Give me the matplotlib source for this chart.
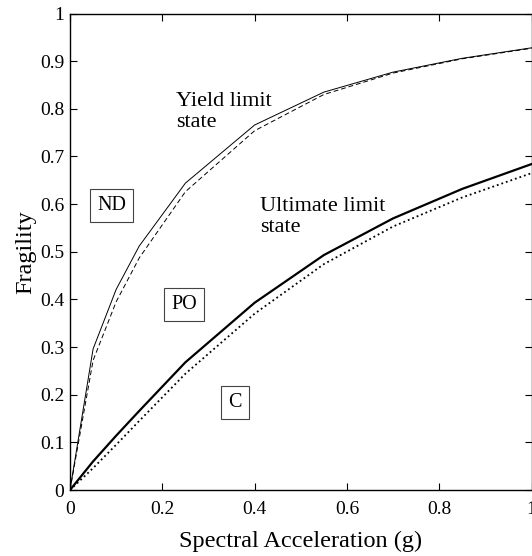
import numpy as np
import matplotlib
matplotlib.use("Agg")
import matplotlib.pyplot as plt

plt.rcParams['font.family'] = ['Liberation Serif', 'DejaVu Serif']
plt.rcParams['mathtext.fontset'] = 'stix'

# spectral acceleration (g)
sa = [0, 0.05, 0.10, 0.15, 0.25, 0.40, 0.55, 0.70, 0.85, 1.00]

# yield limit state curves
yield_solid = [0, 0.296, 0.421, 0.512, 0.644, 0.766, 0.835, 0.877, 0.906, 0.928]
yield_dash = [0, 0.272, 0.395, 0.487, 0.626, 0.754, 0.830, 0.875, 0.905, 0.927]

# ultimate limit state curves
ult_solid = [0, 0.060, 0.114, 0.166, 0.268, 0.393, 0.493, 0.570, 0.632, 0.684]
ult_dot = [0, 0.046, 0.095, 0.145, 0.244, 0.370, 0.474, 0.553, 0.614, 0.665]

xticks = [0, 0.2, 0.4, 0.6, 0.8, 1]
yticks = [0, 0.1, 0.2, 0.3, 0.4, 0.5, 0.6, 0.7, 0.8, 0.9, 1]

fig = plt.figure(figsize=(5.32, 5.56), dpi=100)
ax = fig.add_axes([0.1316, 0.1187, 0.8675, 0.8570])

ax.plot(sa, yield_solid, color='black', lw=0.7)
ax.plot(sa, yield_dash, color='black', lw=0.7, dashes=(5, 3))
ax.plot(sa, ult_solid, color='black', lw=1.6)
ax.plot(sa, ult_dot, color='black', lw=1.3, linestyle=':')

ax.set_xlim(0, 1)
ax.set_ylim(0, 1)
ax.set_xticks(xticks)
ax.set_yticks(yticks)
ax.set_xticklabels(['%g' % t for t in xticks])
ax.set_yticklabels(['%g' % t for t in yticks])
ax.tick_params(direction='in', top=True, right=True, length=5, width=0.8,
               labelsize=14, pad=4)
ax.tick_params(axis='x', pad=8)
for s in ax.spines.values():
    s.set_linewidth(1.0)

ax.set_xlabel('Spectral Acceleration (g)', fontsize=17.5, labelpad=9)
ax.set_ylabel('Fragility', fontsize=17.5, labelpad=3)

ax.text(0.229, 0.794, 'Yield limit\nstate', fontsize=16, va='center',
        ha='left', linespacing=1.15)
ax.text(0.412, 0.573, 'Ultimate limit\nstate', fontsize=16, va='center',
        ha='left', linespacing=1.15)

box = dict(boxstyle='square,pad=0.35', facecolor='white', edgecolor='#444444', lw=0.8)
ax.text(0.0907, 0.597, 'ND', fontsize=14.5, ha='center', va='center', bbox=box)
ax.text(0.247, 0.390, 'PO', fontsize=14.5, ha='center', va='center', bbox=box)
ax.text(0.358, 0.184, 'C', fontsize=14.5, ha='center', va='center', bbox=box)

fig.savefig('out.png', dpi=100)
